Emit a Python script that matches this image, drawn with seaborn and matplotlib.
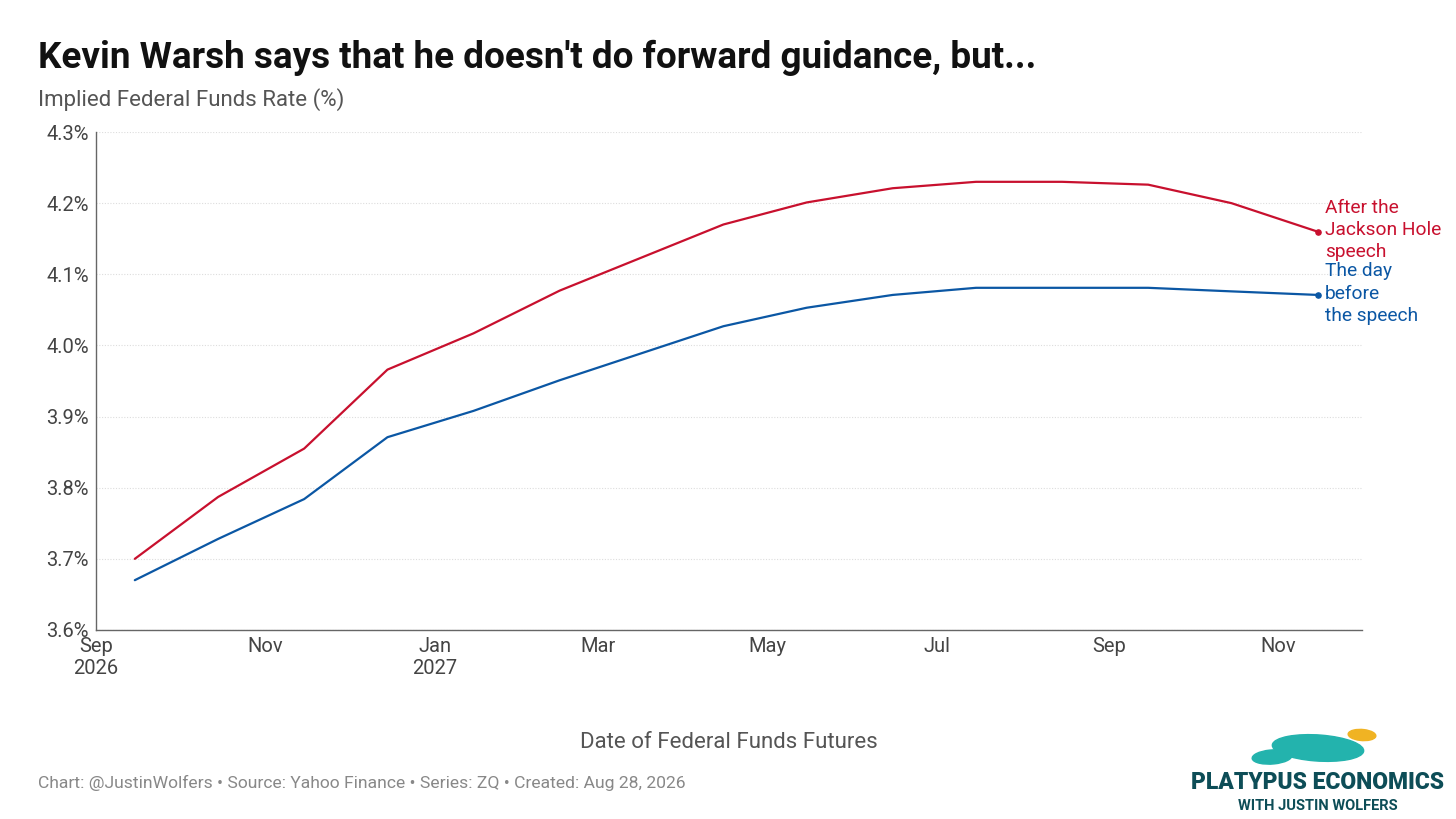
import pandas as pd
import matplotlib
matplotlib.use("Agg")
import matplotlib.pyplot as plt
from matplotlib.patches import Ellipse
import seaborn as sns

# --- data ---
contract_dates = ["2026-09-15", "2026-10-15", "2026-11-15", "2026-12-15",
                  "2027-01-15", "2027-02-15", "2027-04-15", "2027-05-15",
                  "2027-06-15", "2027-07-15", "2027-08-15", "2027-09-15",
                  "2027-10-15", "2027-11-15"]
after_speech = [3.700, 3.787, 3.855, 3.966, 4.017, 4.077, 4.170, 4.201,
                4.221, 4.230, 4.230, 4.226, 4.200, 4.160]
day_before = [3.670, 3.728, 3.784, 3.871, 3.908, 3.951, 4.027, 4.053,
              4.071, 4.081, 4.081, 4.081, 4.076, 4.071]
series_names = ["After the\nJackson Hole\nspeech", "The day\nbefore\nthe speech"]
tick_dates = ["2026-09-01", "2026-11-01", "2027-01-01", "2027-03-01",
              "2027-05-01", "2027-07-01", "2027-09-01", "2027-11-01"]
tick_labels = ["Sep\n2026", "Nov", "Jan\n2027", "Mar", "May", "Jul", "Sep", "Nov"]
y_ticks = [3.6, 3.7, 3.8, 3.9, 4.0, 4.1, 4.2, 4.3]

RED = "#c8102e"
BLUE = "#0b57a4"
GREY = "#555555"
TEAL = "#0d4d57"


def main():
    sns.set_theme(style="white")
    plt.rcParams["font.family"] = ["Roboto", "DejaVu Sans"]

    df = pd.DataFrame({
        "date": pd.to_datetime(contract_dates * 2),
        "rate": after_speech + day_before,
        "series": [series_names[0]] * len(after_speech) + [series_names[1]] * len(day_before),
    })

    fig = plt.figure(figsize=(14.56, 8.19), dpi=100)
    ax = fig.add_axes([0.0659, 0.2308, 0.8695, 0.608])

    sns.lineplot(data=df, x="date", y="rate", hue="series",
                 palette=[RED, BLUE], linewidth=1.6, legend=False, ax=ax)

    # end-point dots and direct labels
    for name, color in zip(series_names, [RED, BLUE]):
        last = df[df["series"] == name].iloc[-1]
        ax.scatter([last["date"]], [last["rate"]], s=14, color=color, zorder=5)
        ax.annotate(name, xy=(last["date"], last["rate"]), xytext=(5.5, 1),
                    textcoords="offset points", va="center", ha="left",
                    color=color, fontsize=13.8, linespacing=1.3,
                    annotation_clip=False)

    ax.set_xlim(pd.Timestamp("2026-09-01"), pd.Timestamp("2027-12-01"))
    ax.set_ylim(3.6, 4.3)
    ax.set_xticks(pd.to_datetime(tick_dates))
    ax.set_xticklabels(tick_labels)
    ax.set_yticks(y_ticks)
    ax.set_yticklabels([f"{v:.1f}%" for v in y_ticks])
    ax.tick_params(axis="both", colors=GREY, labelsize=14.5, length=4, width=0.8,
                   pad=1, direction="out")
    ax.tick_params(axis="x", labelcolor="#444444")
    ax.tick_params(axis="y", labelcolor="#444444")

    ax.yaxis.grid(True, color="#dddddd", linestyle=(0, (1, 1.5)), linewidth=0.8)
    ax.xaxis.grid(False)
    sns.despine(ax=ax)
    for side in ["left", "bottom"]:
        ax.spines[side].set_color("#666666")
        ax.spines[side].set_linewidth(1.0)
    ax.set_xlabel("")
    ax.set_ylabel("")

    # titles and footer
    fig.text(0.026, 0.917, "Kevin Warsh says that he doesn't do forward guidance, but...",
             fontsize=26.6, fontweight="bold", color="#111111", va="baseline")
    fig.text(0.026, 0.871, "Implied Federal Funds Rate (%)",
             fontsize=16, color=GREY, va="baseline")
    fig.text(0.5007, 0.094, "Date of Federal Funds Futures",
             fontsize=16, color=GREY, ha="center", va="center")
    fig.text(0.026, 0.044, "Chart: @JustinWolfers \u2022 Source: Yahoo Finance \u2022 Series: ZQ \u2022 Created: Aug 28, 2026",
             fontsize=12.6, color="#888888", va="center")

    # logo: a rough platypus plus the wordmark
    body = [((1318, 748), 92, 26, -8, "#23b3ad"),
            ((1272, 757), 40, 14, 10, "#23b3ad"),
            ((1362, 735), 28, 11, -12, "#f0b323")]
    for (cx, cy), w, h, ang, col in body:
        fig.add_artist(Ellipse((cx / 1456, 1 - cy / 819), w / 1456, h / 819,
                               angle=ang, transform=fig.transFigure,
                               color=col, zorder=3))
    fig.text(0.905, 0.044, "PLATYPUS ECONOMICS", fontsize=16.5, fontweight="black",
             color=TEAL, ha="center", va="center")
    fig.text(0.905, 0.016, "WITH JUSTIN WOLFERS", fontsize=10.5, fontweight="bold",
             color=TEAL, ha="center", va="center")

    fig.savefig("out.png", dpi=100, facecolor="white")


if __name__ == "__main__":
    main()
